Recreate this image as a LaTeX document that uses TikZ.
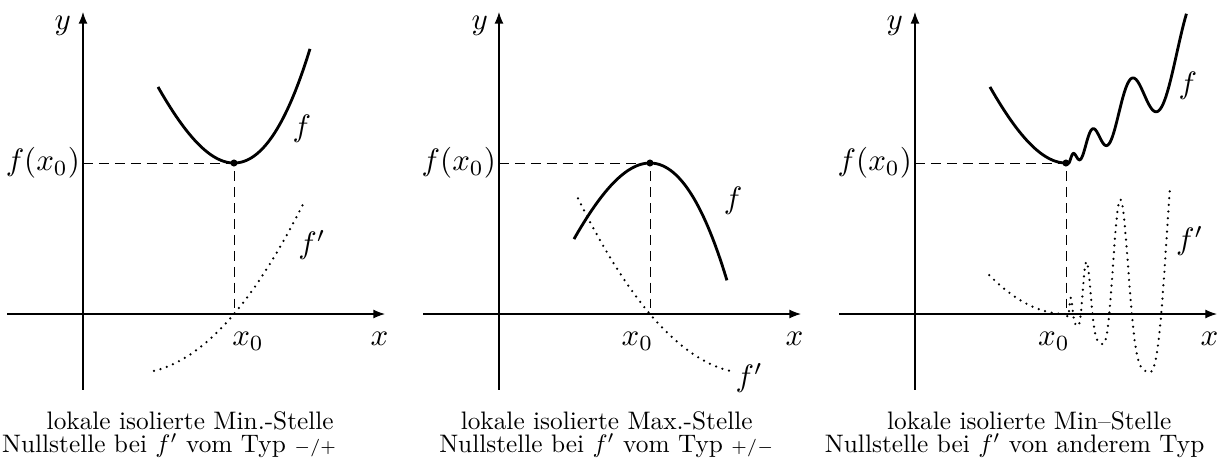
\documentclass[tikz,border=0pt]{standalone}
\usetikzlibrary{arrows.meta}

\begin{document}
\begin{tikzpicture}[
    axis/.style={-{Latex[length=6.5pt,width=5pt]}, line width=0.6pt},
    graph/.style={line width=1.6pt},
    deriv/.style={line width=1.4pt, line cap=round, dash pattern=on 0pt off 3.8pt},
    guide/.style={line width=0.5pt, dash pattern=on 5.6pt off 3.4pt},
    lbl/.style={scale=1.75, inner sep=0.8pt},
    capt/.style={scale=1.43, anchor=base, inner sep=0pt},
    declare function={wig(\u)=sin(deg(21.97*\u+4.24));}
]
\useasboundingbox (-1.649,-3.159) rectangle (22.531,6.239);

\begin{scope}
\draw[axis] (-1.5,0) -- (6,0);
\draw[axis] (0,-1.5) -- (0,6);
\coordinate (p1) at (3,3);
\coordinate (a1) at (3,0);
\node[lbl, anchor=east] (fx1) at (0,3) {$f(x_0)$};
\draw[guide] (fx1.east) -- (p1) -- (a1);
\draw[graph, domain=-1.51:1.51, samples=80] plot ({3+\x}, {3+0.829*\x*\x+0.11*\x*\x*\x});
\draw[deriv, domain=-1.59:1.41, samples=60] plot ({3+\x}, {1.183*\x+0.297*\x*\x});
\fill (p1) circle (2pt);
\node[lbl] (y1) at (-0.4,5.72) {$y$};
\node[lbl] (x1) at (5.89,-0.5) {$x$};
\node[lbl] (x01) at (3.28,-0.54) {$x_0$};
\node[lbl] (f1) at (4.35,3.68) {$f$};
\node[lbl] (d1) at (4.55,1.37) {$f'$};
\node[capt] (c1a) at (2.13,-2.285) {lokale isolierte Min.-Stelle};
\node[capt] (c1b) at (1.71,-2.76) {Nullstelle bei $f'$ vom Typ $\scriptstyle -/+$};
\end{scope}

\begin{scope}[xshift=8.265cm]
\draw[axis] (-1.5,0) -- (6,0);
\draw[axis] (0,-1.5) -- (0,6);
\coordinate (p2) at (3,3);
\coordinate (a2) at (3,0);
\node[lbl, anchor=east] (fx2) at (0,3) {$f(x_0)$};
\draw[guide] (fx2.east) -- (p2) -- (a2);
\draw[graph, domain=-1.51:1.53, samples=80] plot ({3+\x}, {3-0.829*\x*\x-0.11*\x*\x*\x});
\draw[deriv, domain=-1.43:1.61, samples=60] plot ({3+\x}, {-1.183*\x+0.297*\x*\x});
\fill (p2) circle (2pt);
\node[lbl] (y2) at (-0.38,5.72) {$y$};
\node[lbl] (x2) at (5.87,-0.5) {$x$};
\node[lbl] (x02) at (2.75,-0.54) {$x_0$};
\node[lbl] (f2) at (4.65,2.25) {$f$};
\node[lbl] (d2) at (4.97,-1.27) {$f'$};
\node[capt] (c2a) at (2.14,-2.285) {lokale isolierte Max.-Stelle};
\node[capt] (c2b) at (2.13,-2.76) {Nullstelle bei $f'$ vom Typ $\scriptstyle +/-$};
\end{scope}

\begin{scope}[xshift=16.53cm]
\draw[axis] (-1.5,0) -- (6,0);
\draw[axis] (0,-1.5) -- (0,6);
\coordinate (p3) at (3,3);
\coordinate (a3) at (3,0);
\node[lbl, anchor=east] (fx3) at (0,3) {$f(x_0)$};
\draw[guide] (fx3.east) -- (p3) -- (a3);
\draw[graph] plot[domain=-1.51:0, samples=40] ({3+\x}, {3+0.829*\x*\x+0.11*\x*\x*\x})
  -- plot[domain=0.01:1.339, samples=300] ({3+\x^3}, {3+0.88*\x^3.3+0.42*\x^2.4*sin(deg(21.97*\x+2.94))});
\draw[deriv] plot[domain=-1.524:0, samples=40] ({3+\x}, {0.333*\x*\x})
  -- plot[domain=0.01:1.2755, samples=300] ({3+\x^3}, {1.467*\x^2.4*(wig(\x)+0.464*wig(\x)*wig(\x))});
\fill (p3) circle (2pt);
\node[lbl] (y3) at (-0.4,5.72) {$y$};
\node[lbl] (x3) at (5.85,-0.5) {$x$};
\node[lbl] (x03) at (2.76,-0.54) {$x_0$};
\node[lbl] (f3) at (5.42,4.53) {$f$};
\node[lbl] (d3) at (5.46,1.45) {$f'$};
\node[capt] (c3a) at (2.27,-2.285) {lokale isolierte Min--Stelle};
\node[capt] (c3b) at (1.98,-2.76) {Nullstelle bei $f'$ von anderem Typ};
\end{scope}
\end{tikzpicture}
\end{document}
